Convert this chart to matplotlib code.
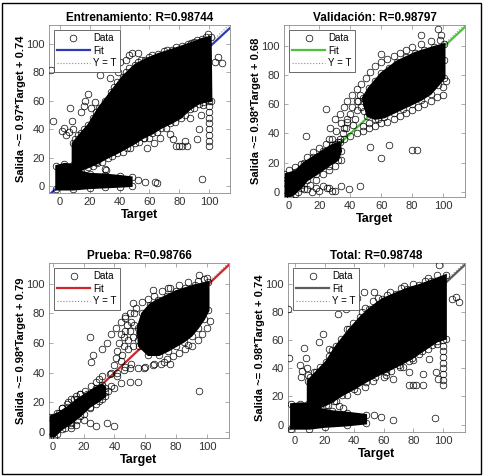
import matplotlib.pyplot as plt
from matplotlib.lines import Line2D
from matplotlib.patches import Rectangle

plt.rcParams['font.family'] = ['Liberation Sans', 'DejaVu Sans']

# ----------------------------------
# panel texts and fit parameters
# ----------------------------------
titles = ["Entrenamiento: R=0.98744", "Validación: R=0.98797",
          "Prueba: R=0.98766", "Total: R=0.98748"]
ylabels = ["Salida ~= 0.97*Target + 0.74", "Salida ~= 0.98*Target + 0.68",
           "Salida ~= 0.98*Target + 0.79", "Salida ~= 0.98*Target + 0.74"]
fit_slope = [0.97, 0.98, 0.98, 0.98]
fit_offset = [0.74, 0.68, 0.79, 0.74]
fit_color = ['#2e3bb0', '#4ec23c', '#d0262a', '#5c5c5c']
ticks = [0, 20, 40, 60, 80, 100]

# ----------------------------------
# dense (solid black) regions, outline
# ----------------------------------
train_core_x = [-2.5, -2.5, 3, 8.5, 8.5, 14, 19, 26, 34, 42, 50, 57, 66, 75, 82, 90, 95, 101,
                101.5, 96, 93, 87, 81, 74, 68, 62, 56, 50, 45, 38, 32, 25, 18.5, 12,
                20, 30, 40, 48, 48, 40, 30, 20, 9]
train_core_y = [-2.5, 14, 15.5, 15, 30, 37, 43, 55, 66, 77, 85, 89, 93, 96, 98.5, 101.5, 103.5, 105,
                60, 59, 58, 54, 48, 44, 41, 37, 34, 30, 27, 23, 20, 16, 13, 10.5,
                8.5, 8, 7, 6, 0, -0.5, -1, -1.5, -2.5]

val_core_x = [[-3, -3, 4, 10, 16, 22, 28, 33, 34, 32, 26, 18, 12, 8, 4, 1],
              [48, 52, 56, 60, 65, 70, 76, 82, 88, 94, 101, 101, 101, 97, 92, 86, 80, 74, 68,
               62, 56, 51]]
val_core_y = [[-3, 12, 14, 20, 24, 28, 32, 34, 28, 22, 18, 12, 8, 3, -1, -3],
              [64, 71, 76, 81, 85, 89, 92, 95, 97, 99, 101, 90, 78, 73, 67, 63, 60, 57, 54,
               51, 50, 52]]

test_core_x = [[-2, -2.4, 4, 10, 16, 22, 28, 32, 34, 34, 30, 24, 18, 12, 6, 3, 1],
               [55, 58, 63, 68, 74, 80, 86, 92, 101, 101, 98, 94, 90, 85, 80, 75, 69, 62, 56]]
test_core_y = [[-3, 10, 13, 17, 22, 26, 30, 32, 30, 24, 21, 17, 11, 6, 2, -1, -3],
               [70, 80, 86, 89, 92, 95, 97, 99, 101, 82, 76, 70, 65, 61, 58, 55, 52, 52, 58]]

total_core_x = [-2.7, -2.7, 3, 8.6, 8.6, 14, 20.9, 28, 36.7, 44, 50, 59, 68, 76, 84, 92, 102,
                102, 96, 92.6, 86, 79, 70, 61.5, 54, 48, 40, 32, 26, 20.9, 15,
                25, 35, 48, 48, 35, 20, 9.7]
total_core_y = [-2.8, 14.5, 15, 15, 31, 37, 44.5, 56, 67.5, 76, 82, 89, 93, 96.5, 99, 102, 106,
                61, 59, 56.6, 52, 47, 42, 37.6, 34, 30.5, 25.5, 21, 17, 14, 11.6,
                9.5, 8.5, 6.9, 0.9, -0.5, -1.5, -2.8]

# ----------------------------------
# single circles outside the dense regions
# ----------------------------------
train_pts_x = [-6, -5, 7, 3, 8, 4, 8.5, 6, 1, 19, 16, 17, 23.5, 14, 21, 27, 33.5, 39, 36, 40, 44, 48,
               52.6, 46, 106, 108.5, 104, 99.5, 56, 63, 58, 67, 74, 76, 84, 78, 80, 82, 85, 92,
               93, 87, 94.5, 100, 100, 100, 100, 100, 100, 100, 100, 52, 57, 64, 65, 95.5, 30,
               31, 17, 21, 24, 45, 50, 38,
               10, 12, 16, 22, 24, 30, 36, 38, 44, 46, 52, 54, 60, 62, 70, 72, 78, 86, 88, 92, 98,
               14, 22, 28, 35, 42, 47, 53, 60, 65, 71, 77, 84, 90, 96, 100]
train_pts_y = [82, 46, 55, 41, 46, 36, 40, 38, 39, 65, 56, 60, 59, 52, 55, 78, 76, 80, 86, 87.5, 88.7,
               93.4, 93.4, 92, 91, 86.5, 87.5, 107, 34, 30, 27, 34, 36.4, 33, 32, 28, 28, 28, 28,
               33, 40, 48, 50, 28, 32, 36, 40, 44, 48, 52, 56, 4, 3, 2.7, 2, 5, 12, 11, 19, 18,
               17, 36, 40, 28,
               33, 36, 40, 48, 52, 60, 70, 73, 80, 83, 87, 89, 91, 92, 95, 96, 98, 100, 101, 103, 105,
               10, 14, 17, 21, 24, 27, 31, 34, 38, 41, 45, 50, 55, 57, 60]

val_pts_x = [11, 24, 34, 39, 46, 22, 26, 30, 65, 60, 53, 80, 83, 100, 86, 99, 97,
             30, 33, 36, 38, 41, 44, 47, 50, 53, 56, 60, 64, 68, 72, 76, 80, 86, 92, 98, 60,
             32, 36, 40, 44, 48, 52, 56, 60, 64, 68, 72, 76, 80, 84, 88, 92, 96, 100, 102,
             28, 30, 33, 35, 37, 31, 27, 34, 38, 26,
             36, 38, 40, 41, 42, 43, 44, 45, 47, 48, 49, 50, 52, 53, 46, 44, 55, 57, 58, 54,
             0, 4, 8, 12, 16, 20, 24, 28, 6, 10, 14, 18, 22, 26, 30, 34,
             12, 15, 18, 20, 25, 28, 3, 8, 2, -2]
val_pts_y = [38, 57, 4, 2, 4, 4, 3, 1, 32, 23, 31, 28.5, 28.5, 66, 107.5, 107.5, 111,
             50, 53, 58, 62, 66, 70, 74, 78, 82, 86, 89, 91, 93, 95, 97, 99, 101, 103, 104, 94,
             34, 36, 38, 40, 42, 44, 45, 47, 48, 50, 52, 54, 56, 58, 60, 62, 65, 72, 76,
             30, 33, 36, 40, 44, 42, 44, 47, 50, 36,
             44, 48, 53, 58, 46, 50, 56, 62, 58, 45, 55, 60, 47, 57, 66, 62, 66, 70, 50, 62,
             15, 17, 19, 24, 27, 30, 33, 36, 0, 2, 5, 8, 12, 15, 18, 22,
             2, 0, 3, 1, 3, 1, 8, 5, 4, 6]

test_pts_x = [24, 26, 25, 38, 36, 40, 42, 44, 55, 50, 40, 35, 24, 28, 95, 65, 52, 47, 88, 72, 66,
              59, 37, 30, 32, 74.5, 95,
              32, 35, 38, 41, 44, 47, 50, 54, 58, 62, 66, 71, 76, 82, 88, 94, 98, 100,
              38, 42, 46, 50, 55, 60, 65, 70, 74, 78, 82, 86, 90, 94, 97, 100, 102, 76,
              40, 41, 42, 43, 44, 45, 46, 46, 47, 49, 49, 50, 51, 52, 52, 53, 55, 47, 44, 51, 48,
              56, 58, 53,
              0, 3, 6, 9, 12, 15, 18, 21, 25, 28, 8, 12, 16, 20, 24, 28, 32, 34,
              18, 14, 10, 6, 20, 15, 12]
test_pts_y = [64, 52, 47, 31, 28, 30, 38, 33, 34, 34, 4, 6, 6, 4, 27.5, 96, 87, 78, 59, 47, 46,
              43, 39, 36, 38, 97, 106,
              56, 60, 66, 70, 74, 77, 80, 84, 88, 90, 92, 95, 97, 99, 101, 102, 103, 104,
              40, 40, 42, 43, 43, 44, 45, 46, 49, 51, 53, 56, 58, 62, 66, 70, 75, 46,
              45, 50, 55, 60, 48, 52, 58, 64, 44, 56, 62, 68, 46, 58, 64, 72, 62, 68, 66, 74, 72,
              66, 72, 80,
              10, 13, 16, 19, 22, 24, 26, 28, 31, 34, 3, 5, 8, 12, 16, 19, 22, 27,
              26, 22, 20, 16, 8, 5, 3]

total_pts_x = [-5, -4, 3, 5, 8, 9, 4, 6.3, 7.4, 16.4, 18.7, 23.2, 28.8, 34.5, 46.8, 53.6, 42,
               108.8, 111, 106.5, 97.6, 66, 61.5, 77.3, 77.3, 79.5, 81.8, 86.3, 86.3, 96.4, 95.3,
               90.8, 79.5, 72.7, 100, 100, 100, 100, 100, 100, 100, 100, 53.6, 58.1, 66, 95,
               32.2, 30, 20, 24,
               10, 13, 17, 23, 25, 31, 35, 39, 45, 47, 53, 56, 62, 64, 72, 74, 80, 88, 90, 96,
               14, 22, 28, 35, 42, 47, 53, 60, 65, 71, 77, 84, 90, 96, 100]
total_pts_y = [82, 47, 42, 38, 40, 35, 34, 54.4, 47.3, 58.7, 64.5, 53.8, 78.7, 82.3, 94.2, 94.2, 90,
               90.6, 87, 89.3, 113, 32.6, 35, 37.4, 28, 28, 28, 36.2, 28, 32.5, 37.2, 46.6,
               45.7, 41, 28, 32, 36, 40, 44, 48, 52, 56, 6.6, 5.4, 3.1, 4.5, 11.6, 13, 19, 18,
               34, 37, 41, 49, 53, 61, 68, 72, 80, 83, 88, 90, 92, 94, 97, 98, 100, 102, 104, 106,
               10, 14, 17, 21, 24, 27, 31, 34, 38, 41, 45, 50, 54, 57, 60]

cores_x = [[train_core_x], val_core_x, test_core_x, [total_core_x]]
cores_y = [[train_core_y], val_core_y, test_core_y, [total_core_y]]
pts_x = [train_pts_x, val_pts_x, test_pts_x, total_pts_x]
pts_y = [train_pts_y, val_pts_y, test_pts_y, total_pts_y]

# ----------------------------------
# layout (figure fractions) and axis limits
# ----------------------------------
positions = [[0.1008, 0.5945, 0.3754, 0.3530],
             [0.5880, 0.5861, 0.3747, 0.3613],
             [0.1014, 0.0798, 0.3727, 0.3676],
             [0.5957, 0.0924, 0.3671, 0.3550]]
xlims = [(-7.6, 114), (-3, 114.3), (-2.4, 114.3), (-5, 115)]
ylims = [(-5, 113.4), (-3.4, 114), (-4, 114), (-5.2, 114.6)]

fig = plt.figure(figsize=(4.83, 4.76), dpi=100)
fig.patches.append(Rectangle((0.004, 0.005), 0.991, 0.989, transform=fig.transFigure,
                             fill=False, edgecolor='black', linewidth=1.0))

mk = dict(marker='o', linestyle='none', markerfacecolor='none',
          markeredgecolor='black', markersize=4.8, markeredgewidth=0.5)

for i in range(4):
    ax = fig.add_axes(positions[i])
    x0, x1 = xlims[i]
    ax.plot([x0, x1], [x0, x1], linestyle=':', color='#8c8c8c', linewidth=0.8, zorder=1)
    ax.plot([x0, x1], [fit_slope[i] * x0 + fit_offset[i], fit_slope[i] * x1 + fit_offset[i]],
            color=fit_color[i], linewidth=1.6, zorder=1)
    for cx, cy in zip(cores_x[i], cores_y[i]):
        ax.fill(cx, cy, facecolor='black', edgecolor='black', linewidth=1.5, zorder=2)
        ax.plot(cx, cy, zorder=3, **mk)
    ax.plot(pts_x[i], pts_y[i], zorder=3, **mk)

    ax.set_xlim(xlims[i])
    ax.set_ylim(ylims[i])
    ax.set_xticks(ticks)
    ax.set_yticks(ticks)
    ax.tick_params(direction='in', length=3, width=0.5, top=True, right=True,
                   labelsize=8, colors='#8a8a8a', labelcolor='#303030', pad=3)
    for s in ax.spines.values():
        s.set_color('#8a8a8a')
        s.set_linewidth(0.6)
    ax.set_title(titles[i], fontsize=8.5, fontweight='bold', pad=3)
    ax.set_xlabel("Target", fontsize=9, fontweight='bold', labelpad=1)
    ax.set_ylabel(ylabels[i], fontsize=8, fontweight='bold', labelpad=0)

    handles = [Line2D([], [], **mk),
               Line2D([], [], color=fit_color[i], linewidth=1.6),
               Line2D([], [], color='#8c8c8c', linestyle=':', linewidth=0.8)]
    leg = ax.legend(handles, ["Data", "Fit", "Y = T"], loc='upper left', fontsize=7,
                    handlelength=3.4, handletextpad=0.3, labelspacing=0.25, borderpad=0.35,
                    borderaxespad=0.5, fancybox=False, framealpha=1)
    leg.get_frame().set_edgecolor('#303030')
    leg.get_frame().set_linewidth(0.5)
    leg.set_zorder(5)

fig.savefig("out.png", dpi=100)
